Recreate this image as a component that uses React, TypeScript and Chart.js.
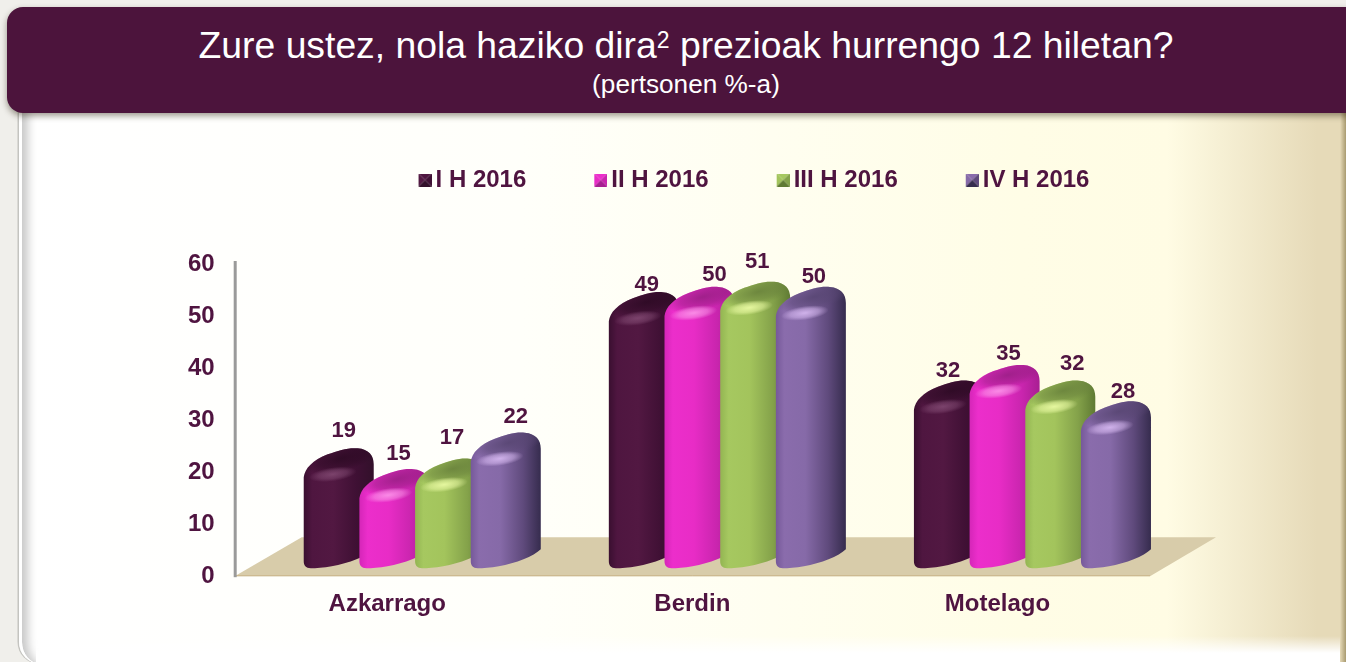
import React, { useEffect, useRef } from "react";
import { Chart, registerables } from "chart.js";

Chart.register(...registerables);

const categories = ["Azkarrago", "Berdin", "Motelago"];
const seriesNames = ["I H 2016", "II H 2016", "III H 2016", "IV H 2016"];
const seriesI = [19, 49, 32];
const seriesII = [15, 50, 35];
const seriesIII = [17, 51, 32];
const seriesIV = [22, 50, 28];
const yTicks = [0, 10, 20, 30, 40, 50, 60];

const INK = "#4f1440";
const FONT = "'Liberation Sans', Arial, sans-serif";

const palettes = [
  { solid: "#4c143c", stops: ["#3a0f30", "#4f1640", "#521842", "#3f1034", "#32102a"], cap: "rgba(45,10,36,0.9)", glow: "rgba(150,95,135,0.6)" },
  { solid: "#e82cc8", stops: ["#d526b8", "#ec2ecb", "#e82cc6", "#c925ae", "#a81f92"], cap: "rgba(150,30,130,0.85)", glow: "rgba(255,170,240,0.75)" },
  { solid: "#a3c45c", stops: ["#93b552", "#a6c860", "#a3c45c", "#84a24a", "#5f7a33"], cap: "rgba(105,130,60,0.9)", glow: "rgba(240,255,170,0.85)" },
  { solid: "#8568a8", stops: ["#76599a", "#8a6cac", "#866aa8", "#5f4a7c", "#362c4e"], cap: "rgba(88,70,115,0.9)", glow: "rgba(225,195,250,0.8)" },
];

// nudges of each printed value from the top of its cylinder: [dx, dy]
const labelNudges = [
  [[40, -46.5], [38, -36], [34, -39]],
  [[39, -44], [50, -41], [39, -40.6]],
  [[37, -50], [37, -49], [47, -46]],
  [[45, -45], [38, -39], [42, -39]],
];

function cylinderPath(ctx: CanvasRenderingContext2D, L: number, S: number, B: number) {
  ctx.beginPath();
  ctx.moveTo(L, S + 2);
  ctx.bezierCurveTo(L + 1, S - 7, L + 9, S - 15, L + 24, S - 21);
  ctx.bezierCurveTo(L + 35, S - 25, L + 45, S - 28, L + 54, S - 27);
  ctx.bezierCurveTo(L + 65, S - 26, L + 70, S - 20, L + 70, S - 11);
  ctx.lineTo(L + 70, B - 19);
  ctx.bezierCurveTo(L + 63, B - 12, L + 45, B - 5, L + 28, B - 2);
  ctx.bezierCurveTo(L + 20, B - 0.5, L + 12, B, L + 7, B);
  ctx.bezierCurveTo(L + 2, B, L, B - 3, L, B - 7);
  ctx.closePath();
}

function softEllipse(ctx: CanvasRenderingContext2D, x: number, y: number, rx: number, ry: number, rot: number, color: string) {
  ctx.save();
  ctx.translate(x, y);
  ctx.rotate(rot);
  ctx.scale(rx, ry);
  const g = ctx.createRadialGradient(0, 0, 0, 0, 0, 1);
  g.addColorStop(0, color);
  g.addColorStop(0.6, color.replace(/[\d.]+\)$/, (m) => String(parseFloat(m) * 0.6) + ")"));
  g.addColorStop(1, color.replace(/[\d.]+\)$/, "0)"));
  ctx.fillStyle = g;
  ctx.beginPath();
  ctx.arc(0, 0, 1, 0, Math.PI * 2);
  ctx.fill();
  ctx.restore();
}

function drawCylinder(ctx: CanvasRenderingContext2D, L: number, S: number, B: number, p: (typeof palettes)[number]) {
  ctx.save();
  cylinderPath(ctx, L, S, B);
  const g = ctx.createLinearGradient(L, 0, L + 70, 0);
  g.addColorStop(0, p.stops[0]);
  g.addColorStop(0.12, p.stops[1]);
  g.addColorStop(0.42, p.stops[2]);
  g.addColorStop(0.75, p.stops[3]);
  g.addColorStop(1, p.stops[4]);
  ctx.fillStyle = g;
  ctx.fill();
  ctx.clip();
  softEllipse(ctx, L + 38, S - 17, 38, 13, -0.24, p.cap);
  softEllipse(ctx, L + 29, S - 1, 24, 7, -0.14, p.glow);
  ctx.restore();
}

const cylinders = {
  id: "cylinders",
  beforeLayout(chart: any) {
    const legend = chart.legend;
    if (!legend._patched) {
      legend._patched = true;
      const fit = legend.fit;
      legend.fit = function () {
        fit.call(this);
        this.height = 164;
      };
    }
  },
  afterLayout(chart: any) {
    chart.legend.left += 95;
    chart.legend.right += 95;
  },
  beforeDatasetDraw() {
    return false;
  },
  afterDatasetsDraw(chart: any) {
    const { ctx, chartArea } = chart;
    const floorFront = chartArea.bottom - 8;
    chart.data.datasets.forEach((_: any, i: number) => {
      chart.getDatasetMeta(i).data.forEach((bar: any) => {
        drawCylinder(ctx, bar.x, bar.y - 2, floorFront, palettes[i]);
      });
    });
    ctx.save();
    ctx.font = `bold 22px ${FONT}`;
    ctx.fillStyle = INK;
    ctx.textAlign = "center";
    ctx.textBaseline = "middle";
    chart.data.datasets.forEach((ds: any, i: number) => {
      chart.getDatasetMeta(i).data.forEach((bar: any, j: number) => {
        const [dx, dy] = labelNudges[i][j];
        ctx.fillText(String(ds.data[j]), bar.x + dx, bar.y + dy);
      });
    });
    ctx.restore();
  },
};

const floorAndAxis = {
  id: "floorAndAxis",
  beforeDatasetsDraw(chart: any) {
    const { ctx, chartArea: a } = chart;
    const y0 = a.bottom;
    ctx.save();
    ctx.beginPath();
    ctx.moveTo(a.left, y0);
    ctx.lineTo(a.right, y0);
    ctx.lineTo(a.right + 66, y0 - 39);
    ctx.lineTo(a.left + 67, y0 - 39);
    ctx.closePath();
    ctx.fillStyle = "#d8ccaa";
    ctx.fill();
    ctx.strokeStyle = "#cbb68c";
    ctx.lineWidth = 1;
    ctx.beginPath();
    ctx.moveTo(a.left, y0 - 0.5);
    ctx.lineTo(a.right, y0 - 0.5);
    ctx.stroke();
    ctx.fillStyle = "#9a9a9a";
    ctx.fillRect(a.left - 1, a.top - 3, 3, a.bottom - a.top + 4);
    ctx.restore();
  },
};

function bevelMarker(p: (typeof palettes)[number]) {
  const c = document.createElement("canvas");
  c.width = 21;
  c.height = 13;
  const x = c.getContext("2d")!;
  const o = 8;
  const s = 13;
  const tri = (pts: number[][], col: string) => {
    x.fillStyle = col;
    x.beginPath();
    pts.forEach(([a, b], i) => (i ? x.lineTo(a + o, b) : x.moveTo(a + o, b)));
    x.closePath();
    x.fill();
  };
  const m = [s / 2, s / 2];
  tri([[0, 0], [s, 0], m], p.stops[1]);
  tri([[0, 0], [0, s], m], p.stops[2]);
  tri([[s, 0], [s, s], m], p.stops[3]);
  tri([[0, s], [s, s], m], p.stops[4]);
  return c;
}

export default function App() {
  const ref = useRef<HTMLCanvasElement>(null);
  useEffect(() => {
    const markers = palettes.map(bevelMarker);
    const values = [seriesI, seriesII, seriesIII, seriesIV];
    const chart = new Chart(ref.current!, {
      type: "bar",
      data: {
        labels: categories,
        datasets: seriesNames.map((name, i) => ({
          label: name,
          data: values[i],
          backgroundColor: palettes[i].solid,
          barPercentage: 1,
          categoryPercentage: 0.73,
        })),
      },
      plugins: [floorAndAxis, cylinders],
      options: {
        animation: false,
        responsive: false,
        maintainAspectRatio: false,
        layout: { padding: { left: 168, right: 196, top: 100, bottom: 29 } },
        plugins: {
          tooltip: { enabled: false },
          title: { display: false },
          legend: {
            display: true,
            position: "top",
            align: "center",
            labels: {
              color: INK,
              font: { family: FONT, size: 24, weight: "bold" },
              usePointStyle: true,
              pointStyleWidth: 5,
              padding: 68,
              generateLabels: () =>
                seriesNames.map((text, i) => ({
                  text,
                  datasetIndex: i,
                  pointStyle: markers[i],
                  fontColor: INK,
                  fillStyle: palettes[i].solid,
                  lineWidth: 0,
                  hidden: false,
                })),
            },
          },
        },
        scales: {
          x: {
            grid: { display: false, drawTicks: false },
            border: { display: false },
            ticks: { color: INK, font: { family: FONT, size: 24, weight: "bold" }, padding: 14, maxRotation: 0 },
          },
          y: {
            min: 0,
            max: 60,
            afterBuildTicks: (axis: any) => {
              axis.ticks = yTicks.map((value) => ({ value }));
            },
            grid: { display: false, drawTicks: false },
            border: { display: false },
            ticks: { color: INK, font: { family: FONT, size: 24, weight: "bold" }, padding: 20 },
          },
        },
      },
    } as any);
    return () => chart.destroy();
  }, []);

  return (
    <div style={{ position: "fixed", inset: 0, width: 1346, height: 662, overflow: "hidden", background: "#f0efeb", fontFamily: FONT }}>
      <div
        style={{
          position: "absolute",
          left: 19,
          top: 60,
          width: 1340,
          height: 604,
          boxSizing: "border-box",
          borderRadius: 22,
          borderLeft: "3px solid #ffffff",
          background:
            "linear-gradient(to right, #ffffff 0px, #fffffa 500px, #fffde6 1000px, #fffce4 1145px, #e6dab8 1295px, #e6dab8 1318px, #a89a70 1324px)",
          boxShadow: "-1.5px 0 0 #c4c4c0, inset 12px 0 10px -6px rgba(0,0,0,0.22)",
        }}
      />
      <div style={{ position: "absolute", left: 36, right: 6, top: 636, height: 26, background: "linear-gradient(to bottom, rgba(255,255,255,0), #ffffff 65%)" }} />
      <div
        style={{
          position: "absolute",
          left: 7,
          top: 7,
          width: 1380,
          height: 106,
          background: "#4c143c",
          borderRadius: 16,
          boxShadow: "0 3px 6px rgba(40,30,10,0.45)",
          color: "#ffffff",
          textAlign: "center",
        }}
      >
        <div style={{ position: "absolute", left: 0, width: 1358, top: 16, fontSize: 37.3, lineHeight: "44px", whiteSpace: "nowrap" }}>
          Zure ustez, nola haziko dira<sup style={{ fontSize: 23, lineHeight: 0, verticalAlign: 10 }}>2</sup> prezioak hurrengo 12 hiletan?
        </div>
        <div style={{ position: "absolute", left: 0, width: 1358, top: 60, fontSize: 26.2, lineHeight: "34px", whiteSpace: "nowrap" }}>
          (pertsonen %-a)
        </div>
      </div>
      <canvas ref={ref} width={1346} height={662} style={{ position: "absolute", left: 0, top: 0, display: "block" }} />
    </div>
  );
}
